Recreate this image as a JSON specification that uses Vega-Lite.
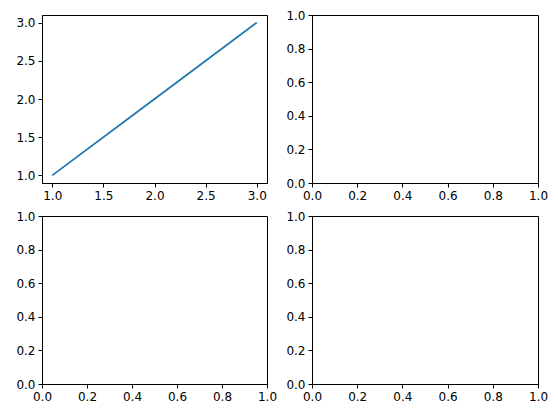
{
  "$schema": "https://vega.github.io/schema/vega-lite/v6.json",
  "padding": {"left": 15, "top": 8, "right": 5, "bottom": 5},
  "background": "white",
  "columns": 2,
  "spacing": {"row": 33, "column": 45},
  "bounds": "flush",
  "datasets": {
    "line": [{"x": 1, "y": 1}, {"x": 2, "y": 2}, {"x": 3, "y": 3}],
    "empty": []
  },
  "concat": [
    {
      "width": 225, "height": 168,
      "data": {"name": "line"},
      "mark": {"type": "line", "color": "#1f77b4", "strokeWidth": 1.8},
      "encoding": {
        "x": {"field": "x", "type": "quantitative", "scale": {"domain": [0.9, 3.1], "nice": false, "zero": false},
              "axis": {"values": [1, 1.5, 2, 2.5, 3], "format": ".1f", "title": null}},
        "y": {"field": "y", "type": "quantitative", "scale": {"domain": [0.9, 3.1], "nice": false, "zero": false},
              "axis": {"values": [1, 1.5, 2, 2.5, 3], "format": ".1f", "title": null}}
      }
    },
    {
      "width": 226, "height": 168,
      "data": {"name": "empty"},
      "mark": {"type": "point", "opacity": 0},
      "encoding": {
        "x": {"field": "x", "type": "quantitative", "scale": {"domain": [0, 1], "nice": false},
              "axis": {"values": [0, 0.2, 0.4, 0.6, 0.8, 1], "format": ".1f", "title": null}},
        "y": {"field": "y", "type": "quantitative", "scale": {"domain": [0, 1], "nice": false},
              "axis": {"values": [0, 0.2, 0.4, 0.6, 0.8, 1], "format": ".1f", "title": null}}
      }
    },
    {
      "width": 225, "height": 168,
      "data": {"name": "empty"},
      "mark": {"type": "point", "opacity": 0},
      "encoding": {
        "x": {"field": "x", "type": "quantitative", "scale": {"domain": [0, 1], "nice": false},
              "axis": {"values": [0, 0.2, 0.4, 0.6, 0.8, 1], "format": ".1f", "title": null}},
        "y": {"field": "y", "type": "quantitative", "scale": {"domain": [0, 1], "nice": false},
              "axis": {"values": [0, 0.2, 0.4, 0.6, 0.8, 1], "format": ".1f", "title": null}}
      }
    },
    {
      "width": 226, "height": 168,
      "data": {"name": "empty"},
      "mark": {"type": "point", "opacity": 0},
      "encoding": {
        "x": {"field": "x", "type": "quantitative", "scale": {"domain": [0, 1], "nice": false},
              "axis": {"values": [0, 0.2, 0.4, 0.6, 0.8, 1], "format": ".1f", "title": null}},
        "y": {"field": "y", "type": "quantitative", "scale": {"domain": [0, 1], "nice": false},
              "axis": {"values": [0, 0.2, 0.4, 0.6, 0.8, 1], "format": ".1f", "title": null}}
      }
    }
  ],
  "config": {
    "view": {"stroke": "black", "strokeWidth": 1},
    "axis": {
      "grid": false,
      "domainColor": "black",
      "domainWidth": 1,
      "tickColor": "black",
      "tickWidth": 1,
      "tickSize": 4,
      "labelPadding": 3,
      "labelFont": "DejaVu Sans",
      "labelFontSize": 12,
      "labelColor": "black",
      "labelFlush": false,
      "labelOverlap": false
    }
  }
}
